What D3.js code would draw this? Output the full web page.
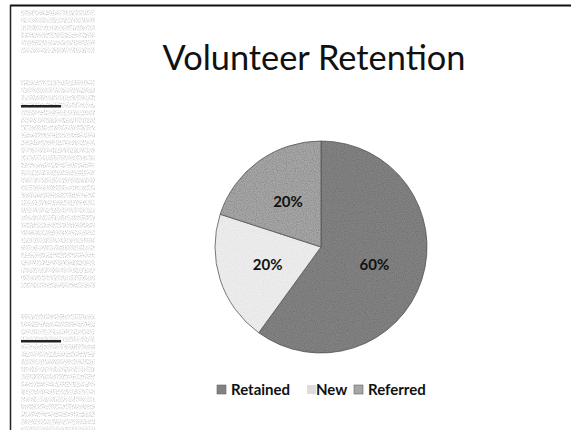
<!DOCTYPE html>
<html>
<head>
<meta charset="utf-8">
<script src="https://cdn.jsdelivr.net/npm/d3@7"></script>
<style>
  html, body { margin: 0; padding: 0; background: #fff; }
  svg { display: block; }
</style>
</head>
<body>
<svg id="chart" width="571" height="430"></svg>
<script>
// ---- data ----
const title = "Volunteer Retention";
const categories = ["Retained", "New", "Referred"];
const values = [60, 20, 20];
const labels = ["60%", "20%", "20%"];
const fills = ["#828282", "#ededed", "#a6a6a6"];

const W = 571, H = 430;
const svg = d3.select("#chart");
const defs = svg.append("defs");

// scan-like noise
const f = defs.append("filter").attr("id", "grain").attr("x", 0).attr("y", 0).attr("width", 1).attr("height", 1);
f.append("feTurbulence").attr("type", "fractalNoise").attr("baseFrequency", 0.9).attr("numOctaves", 1).attr("seed", 3).attr("result", "n");
f.append("feColorMatrix").attr("in", "n").attr("type", "matrix")
  .attr("values", "0 0 0 0 0  0 0 0 0 0  0 0 0 0 0  0 0 0 -1.6 0.95").attr("result", "a");
f.append("feComposite").attr("in", "SourceGraphic").attr("in2", "a").attr("operator", "in");

// frame
svg.append("line").attr("x1", 10).attr("x2", W).attr("y1", 5.5).attr("y2", 5.5)
  .attr("stroke", "#111").attr("stroke-width", 2);
svg.append("line").attr("x1", 10.5).attr("x2", 10.5).attr("y1", 5).attr("y2", H)
  .attr("stroke", "#222").attr("stroke-width", 1.5);

// left column of scanned text (decorative)
const leftCol = svg.append("g");
const blocks = [[10, 50], [80, 285], [314, 430]];
blocks.forEach(([y0, y1]) => {
  for (let y = y0; y < y1 - 2; y += 7.5) {
    leftCol.append("rect").attr("x", 21).attr("y", y).attr("width", 74).attr("height", 5.5)
      .attr("fill", "#8a8a8a").attr("opacity", 0.75).attr("filter", "url(#grain)");
  }
});
[[105, 2.5], [340, 2.5]].forEach(([y, h]) => {
  leftCol.append("rect").attr("x", 21).attr("y", y).attr("width", 40).attr("height", h).attr("fill", "#222");
});

// title
const t = svg.append("text").attr("x", 314).attr("y", 70).attr("text-anchor", "middle")
  .attr("font-family", "Lato, 'Open Sans', sans-serif").attr("font-size", 34).attr("fill", "#111")
  .text(title);
const tw = t.node().getComputedTextLength();
t.attr("font-size", 34 * 303 / tw);

// pie
const cx = 321, cy = 247, r = 106;
const pie = d3.pie().sort(null).value(d => d)(values);
const arc = d3.arc().innerRadius(0).outerRadius(r);
const labelArc = d3.arc().innerRadius(r * 0.53).outerRadius(r * 0.53);
const g = svg.append("g").attr("transform", `translate(${cx},${cy})`);
g.selectAll("path.slice").data(pie).join("path").attr("class", "slice")
  .attr("d", arc).attr("fill", (d, i) => fills[i])
  .attr("stroke", "#555").attr("stroke-width", 0.8);
g.selectAll("path.grain").data(pie).join("path").attr("class", "grain")
  .attr("d", arc).attr("fill", (d, i) => i === 1 ? "#bbb" : "#444")
  .attr("opacity", (d, i) => i === 1 ? 0.35 : 0.45).attr("filter", "url(#grain)");
g.selectAll("text").data(pie).join("text")
  .attr("transform", d => `translate(${labelArc.centroid(d)})`)
  .attr("text-anchor", "middle").attr("dy", "0.35em")
  .attr("font-family", "Lato, 'Open Sans', sans-serif").attr("font-weight", "bold")
  .attr("font-size", 15).attr("fill", "#111")
  .text((d, i) => labels[i]);

// legend
const legend = svg.append("g").attr("transform", "translate(0,390)");
const lx = [217, 307, 354];
categories.forEach((c, i) => {
  const item = legend.append("g").attr("transform", `translate(${lx[i]},0)`);
  item.append("rect").attr("x", 0).attr("y", -5).attr("width", 9).attr("height", 9)
    .attr("fill", i === 1 ? "#ddd" : fills[i]).attr("stroke", i === 1 ? "none" : "#666").attr("stroke-width", 0.6);
  item.append("text").attr("x", i === 1 ? 9 : 14).attr("y", 0).attr("dy", "0.35em")
    .attr("font-family", "Lato, 'Open Sans', sans-serif").attr("font-weight", "bold")
    .attr("font-size", 15).attr("fill", "#111").text(c);
});
</script>
</body>
</html>
